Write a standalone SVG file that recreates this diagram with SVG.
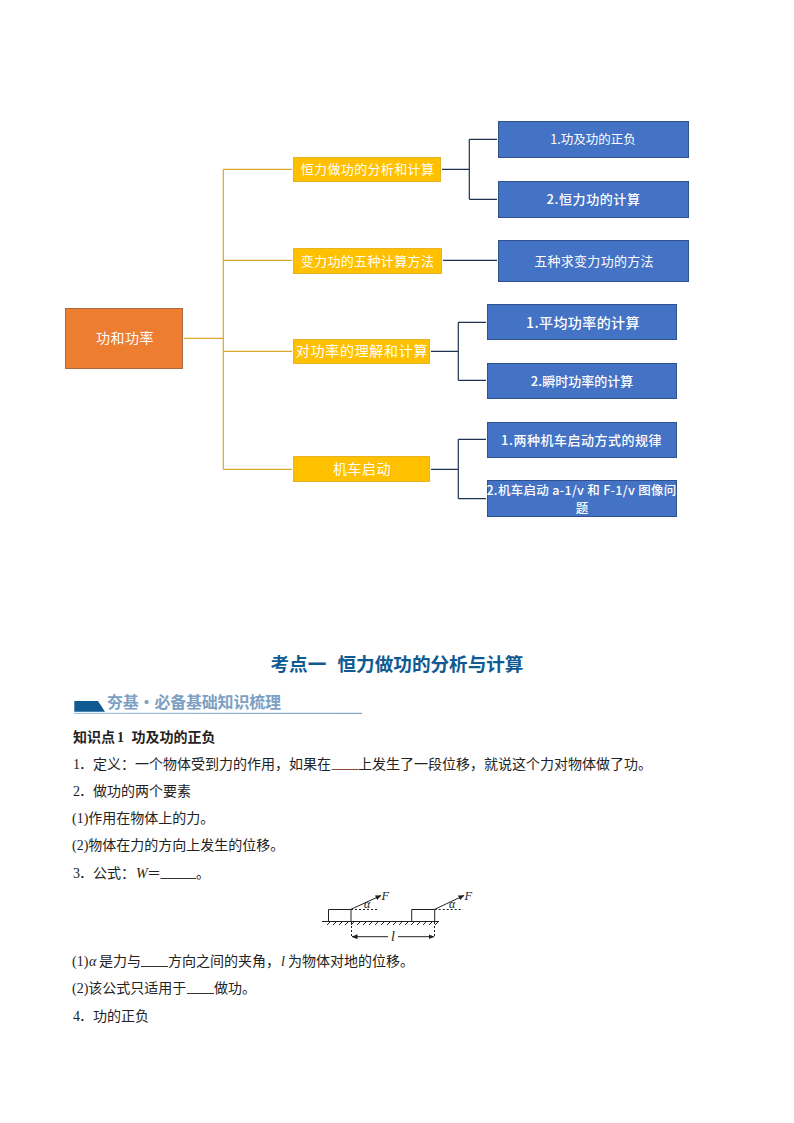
<svg xmlns="http://www.w3.org/2000/svg" width="794" height="1123" viewBox="0 0 794 1123">
<style>
text{font-family:"Liberation Serif","Noto Sans CJK SC",sans-serif}
.n{font-family:"Noto Sans CJK SC",sans-serif;fill:#fff;text-anchor:middle}
.y{fill:#ffc000;stroke:#e5b422;stroke-width:1}
.b{fill:#4472c4;stroke:#2f528f;stroke-width:1}
.r{fill:#ed7d31;stroke:#ae6a3a;stroke-width:1}
.cy{fill:none;stroke:#d9a92c;stroke-width:1.2}
.cb{fill:none;stroke:#1f3350;stroke-width:1.2}
.t{font-size:14px;fill:#222}
.u{stroke:#333;stroke-width:1;fill:none}
.g{stroke:#222;fill:none;stroke-width:1}
.i{font-style:italic;font-family:"Liberation Serif",serif;fill:#222}
</style>
<defs>
<linearGradient id="hl" x1="0" x2="1" y1="0" y2="0"><stop offset="0" stop-color="#a9c4da"/><stop offset="1" stop-color="#7fa3bf"/></linearGradient>
<marker id="ah" markerWidth="6" markerHeight="5" refX="5.5" refY="2.5" orient="auto" markerUnits="userSpaceOnUse"><path d="M0 0L6 2.5L0 5z" fill="#222"/></marker>
</defs>
<rect width="794" height="1123" fill="#fff"/>
<g id="connectors">
<path class="cy" d="M184 338.3H223.3M223.3 169.3V469.3M223.3 169.3H292M223.3 260.3H292M223.3 351.3H292M223.3 469.3H292"/>
<path class="cb" d="M442 169.3H469.3M469.3 139.3V199.3M469.3 139.3H497M469.3 199.3H497"/>
<path class="cb" d="M443 260.3H497"/>
<path class="cb" d="M431 351.3H458.3M458.3 322.3V380.3M458.3 322.3H486M458.3 380.3H486"/>
<path class="cb" d="M431 469.3H458.3M458.3 439.3V498.7M458.3 439.3H486M458.3 498.7H486"/>
</g>
<g id="root"><rect class="r" x="65.5" y="308.5" width="117" height="60"/><text class="n" x="125" y="343" font-size="14" letter-spacing=".5">功和功率</text></g>
<g id="y1"><rect class="y" x="293.5" y="157.5" width="147" height="24"/><text class="n" x="367.5" y="174" font-size="13" letter-spacing=".35">恒力做功的分析和计算</text></g>
<g id="y2"><rect class="y" x="293.5" y="248.5" width="148" height="25"/><text class="n" x="367.5" y="265.5" font-size="13" letter-spacing=".35">变力功的五种计算方法</text></g>
<g id="y3"><rect class="y" x="293.5" y="339.5" width="136" height="24"/><text class="n" x="362" y="356" font-size="14" letter-spacing=".7">对功率的理解和计算</text></g>
<g id="y4"><rect class="y" x="293.5" y="456.5" width="136" height="25"/><text class="n" x="362" y="474" font-size="14" letter-spacing=".5">机车启动</text></g>
<g id="b1"><rect class="b" x="498.5" y="121.5" width="190" height="36"/><text class="n" x="593" y="144" font-size="12.5">1.功及功的正负</text></g>
<g id="b2"><rect class="b" x="498.5" y="181.5" width="190" height="36"/><text class="n" x="593.5" y="204" font-size="13" letter-spacing=".6" font-weight="500">2.恒力功的计算</text></g>
<g id="b3"><rect class="b" x="498.5" y="240.5" width="190" height="41"/><text class="n" x="594" y="266" font-size="13" letter-spacing=".3">五种求变力功的方法</text></g>
<g id="b4"><rect class="b" x="487.5" y="304.5" width="189" height="35"/><text class="n" x="583" y="327.5" font-size="14" letter-spacing=".4" font-weight="500">1.平均功率的计算</text></g>
<g id="b5"><rect class="b" x="487.5" y="363.5" width="189" height="35"/><text class="n" x="582" y="386" font-size="13" font-weight="500">2.瞬时功率的计算</text></g>
<g id="b6"><rect class="b" x="487.5" y="422.5" width="189" height="35"/><text class="n" x="581.5" y="445" font-size="13" letter-spacing=".5" font-weight="500">1.两种机车启动方式的规律</text></g>
<g id="b7"><rect class="b" x="487.5" y="480.5" width="189" height="36"/><text class="n" x="581.5" y="494.5" font-size="12.5" letter-spacing=".3" font-weight="500">2.机车启动 a-1/v 和 F-1/v 图像问</text><text class="n" x="582" y="513" font-size="12.5" font-weight="500">题</text></g>
<text x="270.5" y="671" font-size="18.6" font-weight="700" fill="#0f5a92" style="font-family:'Noto Sans CJK SC',sans-serif">考点一</text>
<text x="337.5" y="671" font-size="18.6" font-weight="700" fill="#0f5a92" style="font-family:'Noto Sans CJK SC',sans-serif">恒力做功的分析与计算</text>
<path d="M74.3 701H98L105 711.7H74.3z" fill="#0f5a92"/>
<rect x="74" y="712.8" width="288" height="1.2" fill="url(#hl)"/>
<text x="107" y="708" font-size="16" font-weight="700" fill="#7d9fc3" style="font-family:'Noto Sans CJK SC',sans-serif" textLength="174">夯基·必备基础知识梳理</text>
<text class="t" x="73" y="741.5" font-weight="700">知识点</text><text class="t" x="117" y="741.5" font-weight="700">1</text><text class="t" x="131.5" y="741.5" font-weight="700">功及功的正负</text>
<text class="t" x="73" y="769">1</text><text class="t" x="79" y="769">．</text><text class="t" x="93" y="769">定义：一个物体受到力的作用，如果在</text>
<line x1="331.5" y1="769.5" x2="358" y2="769.5" stroke="#8b4a3a"/>
<text class="t" x="358" y="769">上发生了一段位移，就说这个力对物体做了功。</text>
<text class="t" x="73" y="796">2</text><text class="t" x="79" y="796">．</text><text class="t" x="93" y="796">做功的两个要素</text>
<text class="t" x="72" y="823">(1)作用在物体上的力。</text>
<text class="t" x="72" y="850">(2)物体在力的方向上发生的位移。</text>
<text class="t" x="73" y="878">3</text><text class="t" x="79" y="878">．</text><text class="t" x="93" y="878">公式：</text>
<text class="i" x="136" y="878" font-size="14">W</text><text class="t" x="147" y="878">＝</text>
<line class="u" x1="160.5" y1="878.5" x2="196" y2="878.5"/><text class="t" x="196" y="878">。</text>
<g id="figure">
<path class="g" d="M322 921.5H439M328.5 921V909.5H351V921M411.7 921V909.5H434.7V921"/>
<path class="g" stroke-width=".8" d="M327 925L330 922M333 925L336 922M339 925L342 922M345 925L348 922M351 925L354 922M357 925L360 922M363 925L366 922M369 925L372 922M375 925L378 922M381 925L384 922M387 925L390 922M393 925L396 922M399 925L402 922M405 925L408 922M411 925L414 922M417 925L420 922M423 925L426 922M429 925L432 922M435 925L438 922"/>
<path class="g" stroke-width=".8" stroke-dasharray="2 2" d="M351 909.5H379M434.7 909.5H463M351.5 922V938M434.5 922V938"/>
<line class="g" x1="351" y1="909.3" x2="381" y2="895.5" marker-end="url(#ah)"/>
<line class="g" x1="434.7" y1="909.3" x2="464" y2="895.5" marker-end="url(#ah)"/>
<line class="g" x1="388" y1="936.7" x2="352" y2="936.7" marker-end="url(#ah)"/>
<line class="g" x1="398" y1="936.7" x2="434" y2="936.7" marker-end="url(#ah)"/>
<text class="i" x="381.5" y="899.5" font-size="12.5">F</text>
<text class="i" x="464.5" y="899.5" font-size="12.5">F</text>
<text class="i" x="364" y="908" font-size="12">α</text>
<text class="i" x="449" y="908" font-size="12">α</text>
<text class="i" x="391" y="941" font-size="14">l</text>
</g>
<text class="t" x="72" y="966">(1)</text><text class="i" x="89" y="966" font-size="14">α</text><text class="t" x="99" y="966">是力与</text>
<line class="u" x1="141" y1="966.5" x2="168" y2="966.5"/>
<text class="t" x="168" y="966">方向之间的夹角，</text><text class="i" x="281" y="966" font-size="14">l</text><text class="t" x="288" y="966">为物体对地的位移。</text>
<text class="t" x="72" y="993">(2)该公式只适用于</text>
<line class="u" x1="187" y1="993.5" x2="214" y2="993.5"/><text class="t" x="214" y="993">做功。</text>
<text class="t" x="73" y="1021">4</text><text class="t" x="79" y="1021">．</text><text class="t" x="93" y="1021">功的正负</text>
</svg>
